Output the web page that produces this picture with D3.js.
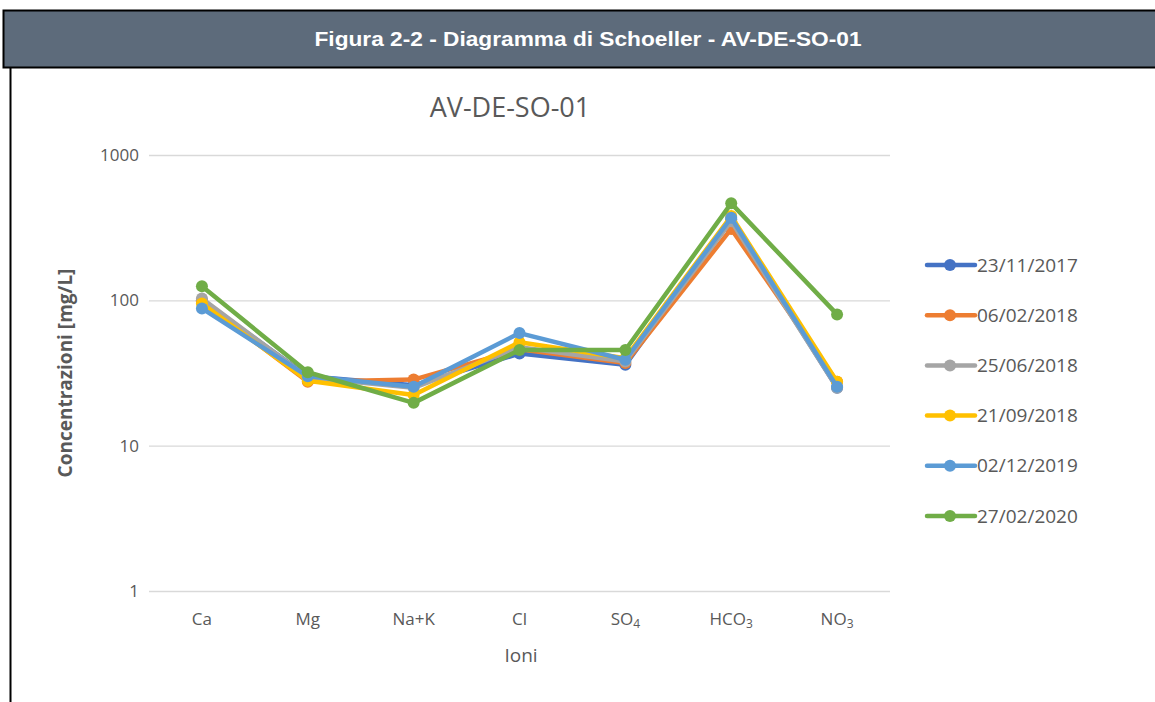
<!DOCTYPE html>
<html>
<head>
<meta charset="utf-8">
<script src="https://cdn.jsdelivr.net/npm/d3@7"></script>
<style>
  body { margin: 0; background: #fff; }
  svg { display: block; }
</style>
</head>
<body>
<svg id="chart"></svg>
<script>
// ions on the x axis (trailing digits become subscripts)
const ions = ["Ca", "Mg", "Na+K", "Cl", "SO4", "HCO3", "NO3"];
const dates = ["23/11/2017", "06/02/2018", "25/06/2018", "21/09/2018", "02/12/2019", "27/02/2020"];
const colors = ["#4472C4", "#ED7D31", "#A5A5A5", "#FFC000", "#5B9BD5", "#70AD47"];

// concentrations [mg/L], one array per sampling date
const s20171123 = [100, 30, 26, 43, 36, 360, 25];
const s20180206 = [98, 27.5, 28.5, 46, 37, 310, 27.5];
const s20180625 = [103, 29.5, 25, 47.5, 38, 350, 25];
const s20180921 = [95, 28, 22.3, 51.5, 40, 380, 27.5];
const s20191202 = [88, 30, 25.4, 59.5, 39, 370, 25.4];
const s20200227 = [125, 32, 19.7, 45.5, 45.5, 465, 80];
const series = [s20171123, s20180206, s20180625, s20180921, s20191202, s20200227];

const yTicks = [1, 10, 100, 1000];

const W = 1155, H = 702;
const svg = d3.select("#chart").attr("width", W).attr("height", H);
const grey = "#595959";

// header bar
svg.append("rect")
  .attr("x", 3.5).attr("y", 10.5).attr("width", W).attr("height", 57)
  .attr("fill", "#5d6b7b").attr("stroke", "#000").attr("stroke-width", 2);
svg.append("text")
  .attr("x", 588).attr("y", 46)
  .attr("text-anchor", "middle")
  .attr("fill", "#fff")
  .attr("textLength", 547)
  .attr("lengthAdjust", "spacingAndGlyphs")
  .style("font-family", "'Liberation Sans Narrow', 'Liberation Sans', Arial, sans-serif")
  .style("font-weight", "bold")
  .style("font-size", "21px")
  .text("Figura 2-2 - Diagramma di Schoeller - AV-DE-SO-01");
svg.append("line")
  .attr("x1", 10.5).attr("x2", 10.5).attr("y1", 68).attr("y2", H)
  .attr("stroke", "#000").attr("stroke-width", 2);

const margin = { left: 149, right: 890, top: 155, bottom: 591 };
const x = d3.scaleBand().domain(ions).range([margin.left, margin.right]);
const y = d3.scaleLog().domain([1, 1000]).range([margin.bottom, margin.top]);
const font = "'Open Sans', 'Noto Sans', sans-serif";

// chart title
svg.append("text")
  .attr("x", 510).attr("y", 117)
  .attr("text-anchor", "middle")
  .attr("fill", grey)
  .style("font-family", font)
  .style("font-size", "27px")
  .text("AV-DE-SO-01");

// y axis with gridlines
const yAxis = svg.append("g")
  .attr("transform", `translate(${margin.left},0)`)
  .call(d3.axisLeft(y).tickValues(yTicks).tickFormat(d3.format("d"))
    .tickSize(-(margin.right - margin.left)).tickPadding(10));
yAxis.select(".domain").remove();
yAxis.selectAll(".tick line").attr("stroke", "#d9d9d9").attr("stroke-width", 1.3);
yAxis.selectAll(".tick text")
  .attr("fill", grey)
  .style("font-family", font)
  .style("font-size", "17px");

// x axis labels
const xAxis = svg.append("g")
  .attr("transform", `translate(0,${margin.bottom})`)
  .call(d3.axisBottom(x).tickSize(0).tickPadding(22).tickFormat(""));
xAxis.select(".domain").remove();
xAxis.selectAll(".tick text").each(function (d) {
  const t = d3.select(this)
    .attr("fill", grey)
    .style("font-family", font)
    .style("font-size", "17px");
  const m = d.match(/^(.*?)(\d+)$/);
  if (m) {
    t.append("tspan").text(m[1]);
    t.append("tspan").attr("dy", "0.25em").style("font-size", "12px").text(m[2]);
  } else {
    t.text(d);
  }
});

// axis titles
svg.append("text")
  .attr("x", 521).attr("y", 662)
  .attr("text-anchor", "middle")
  .attr("fill", grey)
  .style("font-family", font)
  .style("font-size", "19px")
  .text("Ioni");
svg.append("text")
  .attr("transform", "translate(72,373) rotate(-90)")
  .attr("text-anchor", "middle")
  .attr("fill", grey)
  .style("font-family", font)
  .style("font-weight", "bold")
  .style("font-size", "19px")
  .text("Concentrazioni [mg/L]");

// series
const line = d3.line()
  .x((d, i) => x(ions[i]) + x.bandwidth() / 2)
  .y(d => y(d));

series.forEach((vals, k) => {
  const g = svg.append("g");
  g.append("path")
    .datum(vals)
    .attr("d", line)
    .attr("fill", "none")
    .attr("stroke", colors[k])
    .attr("stroke-width", 4.5)
    .attr("stroke-linejoin", "round");
  g.selectAll("circle").data(vals).join("circle")
    .attr("cx", (d, i) => x(ions[i]) + x.bandwidth() / 2)
    .attr("cy", d => y(d))
    .attr("r", 6)
    .attr("fill", colors[k]);
});

// legend
const legend = svg.append("g").attr("transform", "translate(925,265)");
const items = legend.selectAll("g").data(dates).join("g")
  .attr("transform", (d, i) => `translate(0,${i * 50.2})`);
items.append("line")
  .attr("x1", 2).attr("x2", 50).attr("y1", 0).attr("y2", 0)
  .attr("stroke", (d, i) => colors[i])
  .attr("stroke-width", 4.5)
  .attr("stroke-linecap", "round");
items.append("circle")
  .attr("cx", 25).attr("cy", 0).attr("r", 6)
  .attr("fill", (d, i) => colors[i]);
items.append("text")
  .attr("x", 52).attr("y", 0).attr("dy", "0.35em")
  .attr("fill", grey)
  .style("font-family", font)
  .style("font-size", "19px")
  .text(d => d);
</script>
</body>
</html>
